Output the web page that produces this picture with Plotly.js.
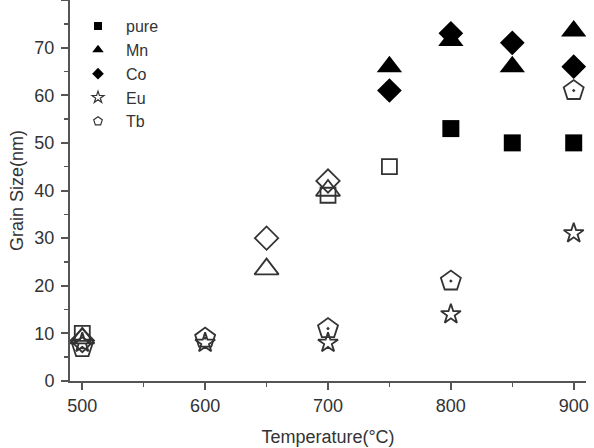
<!DOCTYPE html>
<html>
<head>
<meta charset="utf-8">
<script src="https://cdn.plot.ly/plotly-3.0.1.min.js"></script>
<style>html,body{margin:0;padding:0;background:#fff;}#chart{width:594px;height:448px;}</style>
</head>
<body>
<div id="chart"></div>
<script>
// Data (Temperature in °C, Grain size in nm)
const pureOpenT = [500, 700, 750];
const pureOpenSize = [10, 39, 45];
const pureFilledT = [800, 850, 900];
const pureFilledSize = [53, 50, 50];

const mnOpenT = [500, 650, 700];
const mnOpenSize = [9, 23.5, 40];
const mnFilledT = [750, 800, 850, 900];
const mnFilledSize = [66, 71.5, 66, 73.5];

const coOpenT = [500, 650, 700];
const coOpenSize = [8.5, 30, 42];
const coFilledT = [750, 800, 850, 900];
const coFilledSize = [61, 73, 71, 66];

const euT = [500, 600, 700, 800, 900];
const euSize = [8, 8, 8, 14, 31];

const tbT = [500, 600, 700, 800, 900];
const tbSize = [7, 9, 11, 21, 61];

const seriesNames = ['pure', 'Mn', 'Co', 'Eu', 'Tb'];
const xTicks = [500, 600, 700, 800, 900];
const yTicks = [0, 10, 20, 30, 40, 50, 60, 70, 80];

const openColor = '#333';
const fillColor = '#000';

function pts(name, x, y, symbol, size, filled) {
  return {
    type: 'scatter', mode: 'markers', x: x, y: y, name: name,
    legendgroup: name, showlegend: false, hoverinfo: 'x+y+name',
    marker: {
      symbol: symbol, size: size, color: filled ? fillColor : openColor,
      line: {width: filled ? 0 : 1.8, color: openColor}
    }
  };
}
function legendEntry(name, symbol, size, filled) {
  return {
    type: 'scatter', mode: 'markers', x: [null], y: [null], name: name,
    legendgroup: name, showlegend: true,
    marker: {
      symbol: symbol, size: size, color: filled ? fillColor : openColor,
      line: {width: filled ? 0 : 1.2, color: openColor}
    }
  };
}

const traces = [
  pts(seriesNames[0], pureOpenT, pureOpenSize, 'square-open', 15, false),
  pts(seriesNames[0], pureFilledT, pureFilledSize, 'square', 17, true),
  pts(seriesNames[1], mnOpenT, mnOpenSize, 'triangle-up-open', 21, false),
  pts(seriesNames[1], mnFilledT, mnFilledSize, 'triangle-up', 22, true),
  pts(seriesNames[2], coOpenT, coOpenSize, 'diamond-open', 18, false),
  pts(seriesNames[2], coFilledT, coFilledSize, 'diamond', 19, true),
  pts(seriesNames[3], euT, euSize, 'star-open', 15, false),
  pts(seriesNames[4], tbT, tbSize, 'pentagon-open-dot', 21, false),
  legendEntry(seriesNames[0], 'square', 8, true),
  legendEntry(seriesNames[1], 'triangle-up', 10, true),
  legendEntry(seriesNames[2], 'diamond', 9, true),
  legendEntry(seriesNames[3], 'star-open', 9, false),
  legendEntry(seriesNames[4], 'pentagon-open', 9, false)
];

const fontFam = 'Liberation Sans, Arial, sans-serif';
const axisCol = '#555';

const layout = {
  width: 594, height: 448,
  margin: {l: 70, r: 8, t: 0, b: 67, pad: 0},
  paper_bgcolor: '#fff', plot_bgcolor: '#fff',
  font: {family: fontFam, size: 18, color: '#333'},
  showlegend: true,
  legend: {
    x: 0, xanchor: 'left', y: 0.976, yanchor: 'top',
    bgcolor: 'rgba(0,0,0,0)', borderwidth: 0,
    font: {family: fontFam, size: 16, color: '#333'},
    itemwidth: 46, traceorder: 'grouped', tracegroupgap: 0
  },
  xaxis: {
    range: [490, 910], tickvals: xTicks, ticktext: xTicks.map(String),
    showline: true, linecolor: axisCol, linewidth: 2, mirror: false,
    ticks: 'outside', ticklen: 7, tickwidth: 2, tickcolor: axisCol,
    minor: {tickvals: [550, 650, 750, 850], ticks: 'outside', ticklen: 4, tickwidth: 1.5, tickcolor: axisCol},
    showgrid: false, zeroline: false,
    tickfont: {size: 18, color: '#333'},
    title: {text: 'Temperature(°C)', font: {size: 18, color: '#333'}, standoff: 16}
  },
  yaxis: {
    range: [0, 80], tickvals: yTicks, ticktext: yTicks.map(String),
    showline: true, linecolor: axisCol, linewidth: 2, mirror: false,
    ticks: 'outside', ticklen: 7, tickwidth: 2, tickcolor: axisCol,
    ticklabelstandoff: 3,
    minor: {tickvals: [5, 15, 25, 35, 45, 55, 65, 75], ticks: 'outside', ticklen: 4, tickwidth: 1.5, tickcolor: axisCol},
    showgrid: false, zeroline: false,
    tickfont: {size: 18, color: '#333'},
    title: {text: 'Grain Size(nm)', font: {size: 18, color: '#333'}, standoff: 6}
  }
};

Plotly.newPlot('chart', traces, layout, {displayModeBar: false, staticPlot: true});
</script>
</body>
</html>
